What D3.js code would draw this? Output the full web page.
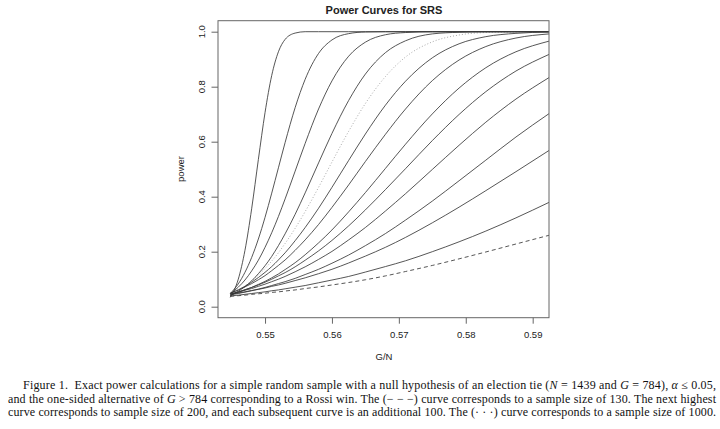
<!DOCTYPE html>
<html>
<head>
<meta charset="utf-8">
<script src="https://cdn.jsdelivr.net/npm/d3@7"></script>
<style>
  body { margin: 0; background: #fff; }
  svg { display: block; }
  .chart text { font-family: "Liberation Sans", Arial, Helvetica, sans-serif; fill: #222; }
  .caption { font-family: "Liberation Serif", "Times New Roman", serif; font-size: 12px; fill: #111; }
</style>
</head>
<body>
<svg width="720" height="429"></svg>
<script>
var gn = [0.5448, 0.546, 0.547, 0.548, 0.549, 0.550, 0.551, 0.552, 0.553, 0.5545, 0.556,
          0.558, 0.560, 0.5625, 0.565, 0.568, 0.571, 0.575, 0.579, 0.583, 0.5875, 0.5925];

// power for each sample size
var p130  = [0.038,0.040,0.042,0.045,0.047,0.049,0.052,0.054,0.057,0.061,0.066,0.072,0.079,0.088,0.098,0.112,0.128,0.150,0.174,0.199,0.228,0.260];
var p200  = [0.039,0.042,0.045,0.048,0.051,0.054,0.058,0.061,0.065,0.071,0.077,0.087,0.097,0.110,0.126,0.146,0.167,0.200,0.236,0.275,0.323,0.380];
var p300  = [0.046,0.050,0.054,0.059,0.063,0.068,0.074,0.079,0.085,0.095,0.105,0.120,0.136,0.159,0.184,0.216,0.252,0.305,0.362,0.422,0.491,0.569];
var p400  = [0.043,0.048,0.053,0.058,0.064,0.070,0.077,0.084,0.091,0.103,0.117,0.136,0.158,0.188,0.222,0.266,0.315,0.384,0.458,0.533,0.617,0.703];
var p500  = [0.046,0.053,0.060,0.066,0.074,0.082,0.091,0.100,0.110,0.127,0.145,0.172,0.201,0.243,0.288,0.348,0.411,0.499,0.587,0.671,0.755,0.834];
var p600  = [0.046,0.054,0.062,0.070,0.079,0.089,0.100,0.112,0.124,0.145,0.169,0.203,0.241,0.294,0.352,0.426,0.502,0.604,0.699,0.782,0.857,0.918];
var p700  = [0.044,0.052,0.061,0.070,0.081,0.092,0.105,0.119,0.135,0.160,0.189,0.232,0.279,0.345,0.415,0.503,0.591,0.701,0.795,0.869,0.927,0.966];
var p800  = [0.049,0.061,0.072,0.084,0.098,0.113,0.131,0.150,0.170,0.205,0.243,0.299,0.361,0.443,0.528,0.627,0.719,0.822,0.897,0.946,0.977,0.992];
var p900  = [0.048,0.061,0.074,0.089,0.106,0.125,0.146,0.170,0.196,0.240,0.288,0.358,0.434,0.532,0.628,0.733,0.820,0.905,0.956,0.982,0.994,0.999];
var p1000 = [0.046,0.061,0.076,0.094,0.115,0.139,0.166,0.196,0.230,0.285,0.346,0.434,0.526,0.638,0.739,0.837,0.908,0.963,0.988,0.997,0.999,1.000];
var p1100 = [0.040,0.056,0.073,0.094,0.120,0.149,0.183,0.222,0.265,0.336,0.414,0.523,0.630,0.750,0.846,0.924,0.967,0.992,0.998,1.000,1.000,1.000];
var p1200 = [0.047,0.071,0.097,0.130,0.169,0.216,0.269,0.328,0.392,0.493,0.594,0.719,0.821,0.911,0.962,0.989,0.997,1.000,1.000,1.000,1.000,1.000];
var p1300 = [0.048,0.083,0.125,0.179,0.246,0.325,0.413,0.505,0.597,0.724,0.827,0.921,0.970,0.993,0.999,1.000,1.000,1.000,1.000,1.000,1.000,1.000];
var p1400 = [0.034,0.100,0.205,0.356,0.535,0.706,0.841,0.927,0.972,0.995,1.000,1.000,1.000,1.000,1.000,1.000,1.000,1.000,1.000,1.000,1.000,1.000];

var sizes = [130, 200, 300, 400, 500, 600, 700, 800, 900, 1000, 1100, 1200, 1300, 1400];
var curves = [p130, p200, p300, p400, p500, p600, p700, p800, p900, p1000, p1100, p1200, p1300, p1400];

var xTicks = [0.55, 0.56, 0.57, 0.58, 0.59];
var yTicks = [0.0, 0.2, 0.4, 0.6, 0.8, 1.0];

var svg = d3.select('svg');
var chart = svg.append('g').attr('class', 'chart');

var x = d3.scaleLinear().domain([0.54297, 0.59244]).range([218, 549]);
var y = d3.scaleLinear().domain([-0.04, 1.04]).range([317.7, 20.7]);

chart.append('clipPath').attr('id', 'plotclip')
    .append('rect')
    .attr('x', 218).attr('y', 20.7)
    .attr('width', 331).attr('height', 297);

var line = d3.line()
    .x((d, i) => x(gn[i]))
    .y(d => y(d))
    .curve(d3.curveMonotoneX);

chart.append('g').attr('clip-path', 'url(#plotclip)')
    .selectAll('path')
    .data(curves)
    .enter().append('path')
    .attr('d', d => line(d))
    .attr('fill', 'none')
    .attr('stroke', (d, i) => sizes[i] == 1000 ? '#9a9a9a' : '#383838')
    .attr('stroke-width', 0.85)
    .attr('stroke-dasharray', (d, i) => {
        if (sizes[i] == 130) return '4,3';
        if (sizes[i] == 1000) return '1,2';
        return null;
    });

// box
chart.append('rect')
    .attr('x', 218).attr('y', 20.7)
    .attr('width', 331).attr('height', 297)
    .attr('fill', 'none').attr('stroke', '#666').attr('stroke-width', 1);

// x axis
var xAxis = chart.append('g')
    .attr('transform', 'translate(0,317.7)')
    .call(d3.axisBottom(x).tickValues(xTicks).tickSize(6).tickPadding(7.5).tickFormat(d3.format('.2f')));
xAxis.select('.domain').remove();
xAxis.selectAll('line').attr('stroke', '#666');
xAxis.selectAll('text').style('font-size', '9.5px').attr('fill', '#222');

// y axis, labels turned like R does
var yAxis = chart.append('g')
    .attr('transform', 'translate(218,0)')
    .call(d3.axisLeft(y).tickValues(yTicks).tickSize(6.5).tickFormat(''));
yAxis.select('.domain').remove();
yAxis.selectAll('line').attr('stroke', '#666');

chart.append('g').selectAll('text')
    .data(yTicks)
    .enter().append('text')
    .attr('transform', d => 'translate(205,' + y(d) + ') rotate(-90)')
    .attr('text-anchor', 'middle')
    .style('font-size', '9.5px')
    .text(d => d3.format('.1f')(d));

chart.append('text')
    .attr('x', 384).attr('y', 13.5)
    .attr('text-anchor', 'middle')
    .style('font-size', '11px').style('font-weight', 'bold')
    .text('Power Curves for SRS');

chart.append('text')
    .attr('x', 384).attr('y', 360)
    .attr('text-anchor', 'middle')
    .style('font-size', '9.5px')
    .text('G/N');

chart.append('text')
    .attr('transform', 'translate(184,169) rotate(-90)')
    .attr('text-anchor', 'middle')
    .style('font-size', '9.5px')
    .text('power');

// caption, justified with textLength
var caption = [
    { x: 23, y: 389, w: 693, parts: [
        ['Figure 1.\u00a0 Exact power calculations for a simple random sample with a null hypothesis of an election tie (', 0],
        ['N', 1], [' = 1439 and ', 0], ['G', 1], [' = 784), ', 0], ['\u03b1', 1], [' \u2264 0.05,', 0]] },
    { x: 8, y: 402.5, w: 708, parts: [
        ['and the one-sided alternative of ', 0], ['G', 1],
        [' > 784 corresponding to a Rossi win. The (\u2212 \u2212 \u2212) curve corresponds to a sample size of 130. The next highest', 0]] },
    { x: 8, y: 416, w: 708, parts: [
        ['curve corresponds to sample size of 200, and each subsequent curve is an additional 100. The (\u00b7 \u00b7 \u00b7) curve corresponds to a sample size of 1000.', 0]] }
];

caption.forEach(c => {
    var t = svg.append('text')
        .attr('class', 'caption')
        .attr('x', c.x).attr('y', c.y)
        .attr('textLength', c.w)
        .attr('lengthAdjust', 'spacing');
    c.parts.forEach(p => {
        t.append('tspan')
            .style('font-style', p[1] ? 'italic' : 'normal')
            .text(p[0]);
    });
});
</script>
</body>
</html>
